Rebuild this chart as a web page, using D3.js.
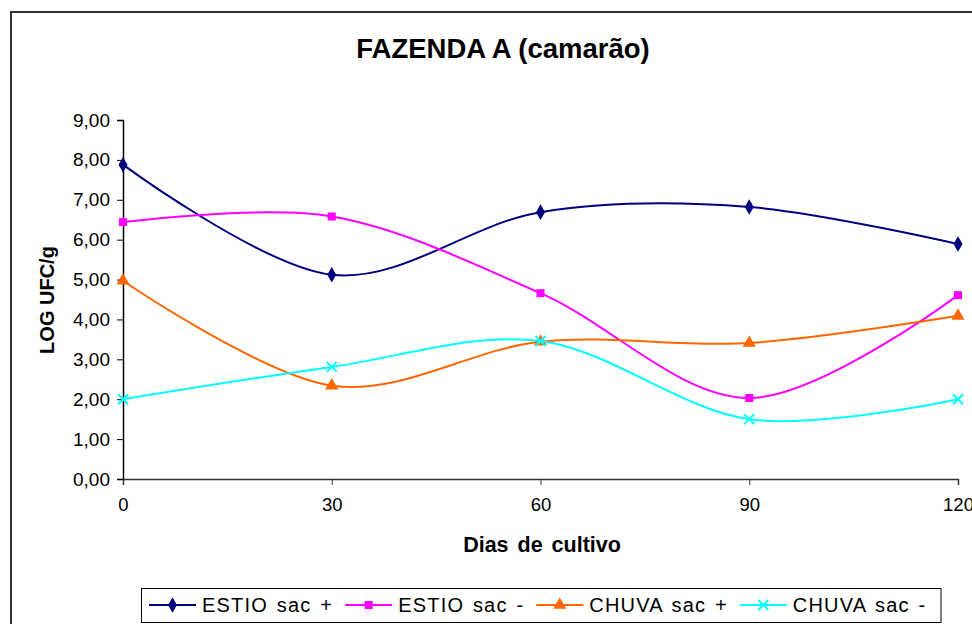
<!DOCTYPE html>
<html>
<head>
<meta charset="utf-8">
<script src="https://cdn.jsdelivr.net/npm/d3@7"></script>
<style>
  body { margin: 0; background: #fff; }
  svg { display: block; font-family: "Liberation Sans", Arial, sans-serif; }
</style>
</head>
<body>
<div id="chart"></div>
<script>
// dati
var giorni = [0, 30, 60, 90, 120];
var yTicks = [0, 1, 2, 3, 4, 5, 6, 7, 8, 9];
var serieNomi = ["ESTIO sac +", "ESTIO sac -", "CHUVA sac +", "CHUVA sac -"];
var estioPiu = [7.88, 5.12, 6.69, 6.82, 5.89];
var estioMeno = [6.44, 6.58, 4.66, 2.03, 4.61];
var chuvaPiu = [4.97, 2.34, 3.44, 3.41, 4.09];
var chuvaMeno = [2.00, 2.81, 3.46, 1.50, 2.00];

var colori = ["#000080", "#FF00FF", "#FF6600", "#00FFFF"];
var simboli = ["diamond", "square", "triangle", "cross"];
var valori = [estioPiu, estioMeno, chuvaPiu, chuvaMeno];

var width = 972;
var height = 624;

var svg = d3.select("#chart")
            .append("svg")
            .attr("width", width)
            .attr("height", height);

// cornice esterna
svg.append("path")
   .attr("d", "M11,624 V12 H972")
   .attr("fill", "none")
   .attr("stroke", "#333")
   .attr("stroke-width", 2);

var x = d3.scaleLinear().domain([0, 120]).range([123, 958]);
var y = d3.scaleLinear().domain([0, 9]).range([479, 120]);

var fmt = function(d) { return d3.format(".2f")(d).replace(".", ","); };

// asse y
var gy = svg.append("g")
            .attr("transform", "translate(123,0)")
            .call(d3.axisLeft(y).tickValues(yTicks).tickFormat(fmt).tickSize(6).tickPadding(7));
gy.select(".domain").attr("stroke", "#000").attr("stroke-width", 1.5);
gy.selectAll(".tick line").attr("stroke", "#000");
gy.selectAll("text").attr("font-size", 19).attr("fill", "#000");

// asse x
var gx = svg.append("g")
            .attr("transform", "translate(0,479)")
            .call(d3.axisBottom(x).tickValues(giorni).tickSize(6).tickPadding(13));
gx.select(".domain").attr("stroke", "#333").attr("stroke-width", 1.5);
gx.selectAll(".tick line").attr("stroke", "#333");
gx.selectAll("text").attr("font-size", 18.5).attr("fill", "#000");

// titoli
svg.append("text")
   .attr("x", 503).attr("y", 58)
   .attr("text-anchor", "middle")
   .attr("font-size", 27.5).attr("font-weight", "bold")
   .text("FAZENDA A (camarão)");

svg.append("text")
   .attr("x", 542).attr("y", 552)
   .attr("text-anchor", "middle")
   .attr("font-size", 21.5).attr("font-weight", "bold")
   .attr("word-spacing", 3)
   .text("Dias de cultivo");

svg.append("text")
   .attr("transform", "translate(54,300) rotate(-90)")
   .attr("text-anchor", "middle")
   .attr("font-size", 20).attr("font-weight", "bold")
   .text("LOG UFC/g");

var linea = d3.line()
              .x(function(d, i) { return x(giorni[i]); })
              .y(function(d) { return y(d); })
              .curve(d3.curveCardinal.tension(0));

var simbolo = function(tipo) {
    if (tipo == "diamond") return d3.symbol().type(d3.symbolDiamond).size(70)();
    if (tipo == "square") return d3.symbol().type(d3.symbolSquare).size(64)();
    if (tipo == "triangle") return d3.symbol().type(d3.symbolTriangle).size(75)();
    return "M-5,-5L5,5M-5,5L5,-5";
};

function disegnaSimbolo(g, tipo, colore) {
    g.append("path")
     .attr("d", simbolo(tipo))
     .attr("fill", tipo == "cross" ? "none" : colore)
     .attr("stroke", colore)
     .attr("stroke-width", tipo == "cross" ? 2 : 0);
}

valori.forEach(function(serie, s) {
    svg.append("path")
       .attr("d", linea(serie))
       .attr("fill", "none")
       .attr("stroke", colori[s])
       .attr("stroke-width", 2);

    serie.forEach(function(v, i) {
        var g = svg.append("g").attr("transform", "translate(" + x(giorni[i]) + "," + y(v) + ")");
        disegnaSimbolo(g, simboli[s], colori[s]);
    });
});

// legenda
var legenda = svg.append("g");
var box = legenda.append("rect")
                 .attr("x", 141.5).attr("y", 588.5)
                 .attr("height", 34)
                 .attr("fill", "#fff")
                 .attr("stroke", "#000")
                 .attr("stroke-width", 1);

var posX = 149;
serieNomi.forEach(function(nome, s) {
    var g = legenda.append("g").attr("transform", "translate(" + posX + ",605)");
    g.append("line")
     .attr("x1", 0).attr("x2", 47)
     .attr("stroke", colori[s]).attr("stroke-width", 2);
    var m = g.append("g").attr("transform", "translate(23.5,0)");
    disegnaSimbolo(m, simboli[s], colori[s]);
    var t = g.append("text")
             .attr("x", 53).attr("y", 7)
             .attr("font-size", 20)
             .attr("letter-spacing", 1.2)
             .attr("word-spacing", 2)
             .text(nome);
    posX += 53 + t.node().getComputedTextLength() + 12;
});
box.attr("width", Math.max(799.5, posX - 141.5 - 4));
</script>
</body>
</html>
